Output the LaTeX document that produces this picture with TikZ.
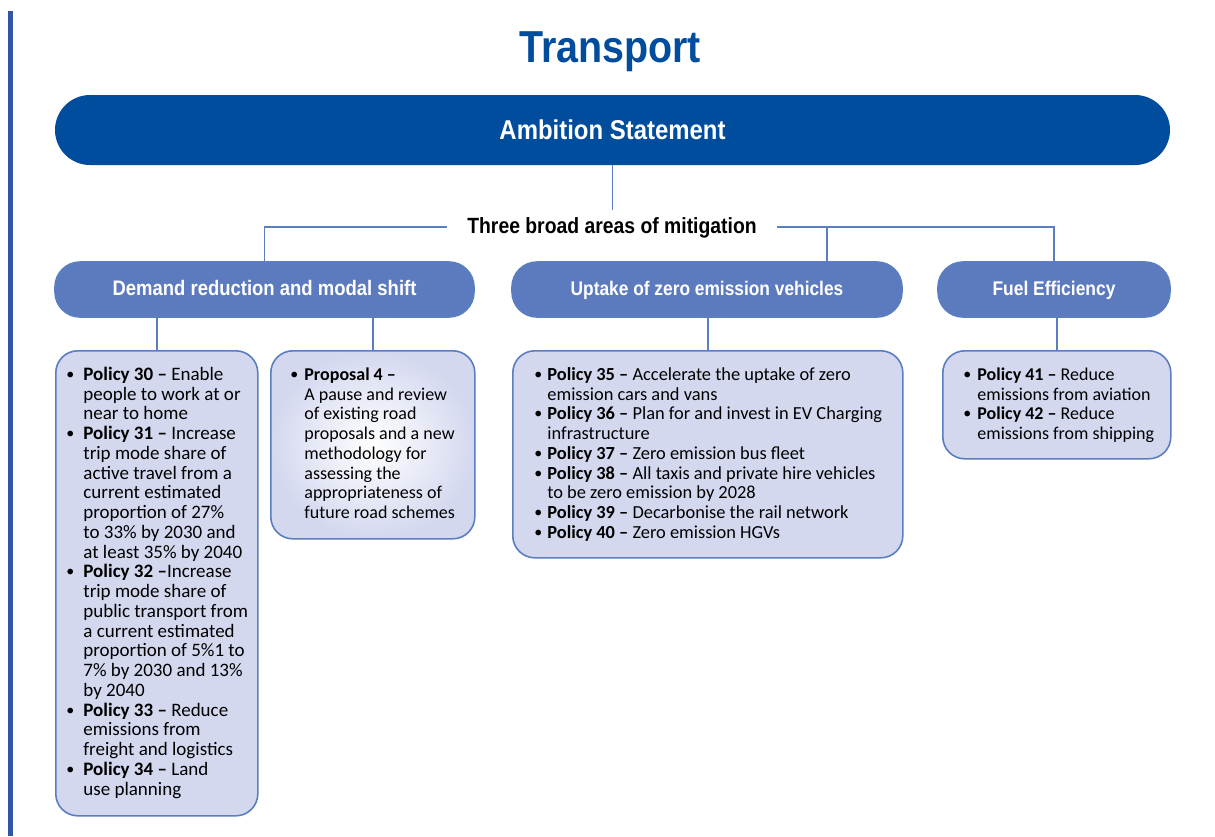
\documentclass[tikz,border=0pt]{standalone}
\usepackage{fontspec}
\usepackage{array}
\setmainfont{Carlito}
\newfontfamily\headfont[FakeStretch=0.88]{Liberation Sans}
\usetikzlibrary{positioning}
\definecolor{darkblue}{HTML}{004C9D}
\definecolor{midblue}{HTML}{5C7BBF}
\definecolor{lineblue}{HTML}{5A7EC0}
\definecolor{lavender}{HTML}{D4D8EF}
\definecolor{barblue}{HTML}{2F55A4}
\newcolumntype{B}[1]{@{}p{#1}@{}l@{}}
\newcommand{\dotitem}{\raisebox{0.1ex}{\footnotesize\textbullet}}
\tikzset{
  areabox/.style={draw=lineblue, fill=midblue, line width=0.8pt, rounded corners=12.5pt,
    minimum height=27.5pt, inner sep=0pt, text height=7.4pt, text depth=1.6pt, text=white},
  headfont/.style={font=\headfont\bfseries\fontsize{#1}{12}\selectfont},
  policybox/.style={draw=lineblue, fill=lavender, line width=0.8pt, rounded corners=11pt,
    inner sep=0pt, anchor=north west},
  policytext/.style={anchor=north west, inner sep=0pt, font=\fontsize{#1}{9.88}\selectfont},
  link/.style={draw=lineblue, line width=0.7pt}
}
\begin{document}
\begin{tikzpicture}[x=0.5pt, y=-0.5pt]
    \useasboundingbox (0,0) rectangle (1215,836);
    \fill[barblue] (7.5,11) rectangle (12.5,836);
    \node[text=darkblue, font=\headfont\bfseries\fontsize{22.4}{24}\selectfont] (title) at (610,52) {Transport};
    \node[fill=darkblue, rounded corners=17.5pt, minimum width=557.5pt, minimum height=35pt, inner sep=0pt,
        text=white, headfont=13.6] (ambition) at (612.5,130) {Ambition Statement};
    \node[headfont=11, inner xsep=10pt, text height=7.8pt, text depth=1.8pt] (three) at (612,227) {Three broad areas of mitigation};
    % the three areas
    \node[areabox, headfont=10.5, minimum width=209.5pt] (demand) at (264.5,289.5) {Demand reduction and modal shift};
    \node[areabox, headfont=9.85, minimum width=195pt] (uptake) at (707,289.5) {Uptake of zero emission vehicles};
    \node[areabox, headfont=9.9, minimum width=116pt] (fuel) at (1054,289.5) {Fuel Efficiency};
    % policy boxes
    \node[policybox, minimum width=101pt, minimum height=232.5pt] (demandlist) at (55,350) {};
    \node[policybox, inner color=white, outer color=lavender, minimum width=102pt, minimum height=94pt] (proposal) at (270,350) {};
    \node[policybox, minimum width=195pt, minimum height=103.5pt] (uptakelist) at (512,350) {};
    \node[policybox, minimum width=114pt, minimum height=54pt] (fuellist) at (942,350) {};
    \draw[link] (ambition.south) -- (ambition.south |- three.north);
    \draw[link] (three.west) -| (demand.north);
    \draw[link] (three.east) -| (fuel.north);
    \coordinate (branch) at (827,0);
    \draw[link] (branch |- three.east) -- (branch |- uptake.north);
    \draw[link] (demandlist.north) -- (demandlist.north |- demand.south);
    \draw[link] (proposal.north) -- (proposal.north |- demand.south);
    \draw[link] (uptakelist.north) -- (uptakelist.north |- uptake.south);
    \draw[link] (fuellist.north) -- (fuellist.north |- fuel.south);
    \node[policytext=9.5] (demandtext) at (66,366) {\begin{tabular}{B{8.5pt}}
        \dotitem & \textbf{Policy 30 –} Enable\\
         & people to work at or\\
         & near to home\\
        \dotitem & \textbf{Policy 31 –} Increase\\
         & trip mode share of\\
         & active travel from a\\
         & current estimated\\
         & proportion of 27\%\\
         & to 33\% by 2030 and\\
         & at least 35\% by 2040\\
        \dotitem & \textbf{Policy 32 –}Increase\\
         & trip mode share of\\
         & public transport from\\
         & a current estimated\\
         & proportion of 5\%1 to\\
         & 7\% by 2030 and 13\%\\
         & by 2040\\
        \dotitem & \textbf{Policy 33 –} Reduce\\
         & emissions from\\
         & freight and logistics\\
        \dotitem & \textbf{Policy 34 –} Land\\
         & use planning
        \end{tabular}};
    \node[policytext=9] (proposaltext) at (290,366) {\begin{tabular}{B{7pt}}
        \dotitem & \textbf{Proposal 4 –}\\
         & A pause and review\\
         & of existing road\\
         & proposals and a new\\
         & methodology for\\
         & assessing the\\
         & appropriateness of\\
         & future road schemes
        \end{tabular}};
    \node[policytext=9.2] (uptaketext) at (534,366) {\begin{tabular}{B{6.5pt}}
        \dotitem & \textbf{Policy 35 –} Accelerate the uptake of zero\\
         & emission cars and vans\\
        \dotitem & \textbf{Policy 36 –} Plan for and invest in EV Charging\\
         & infrastructure\\
        \dotitem & \textbf{Policy 37 –} Zero emission bus fleet\\
        \dotitem & \textbf{Policy 38 –} All taxis and private hire vehicles\\
         & to be zero emission by 2028\\
        \dotitem & \textbf{Policy 39 –} Decarbonise the rail network\\
        \dotitem & \textbf{Policy 40 –} Zero emission HGVs
        \end{tabular}};
    \node[policytext=9] (fueltext) at (963,366) {\begin{tabular}{B{7pt}}
        \dotitem & \textbf{Policy 41 –} Reduce\\
         & emissions from aviation\\
        \dotitem & \textbf{Policy 42 –} Reduce\\
         & emissions from shipping
        \end{tabular}};
\end{tikzpicture}
\end{document}
